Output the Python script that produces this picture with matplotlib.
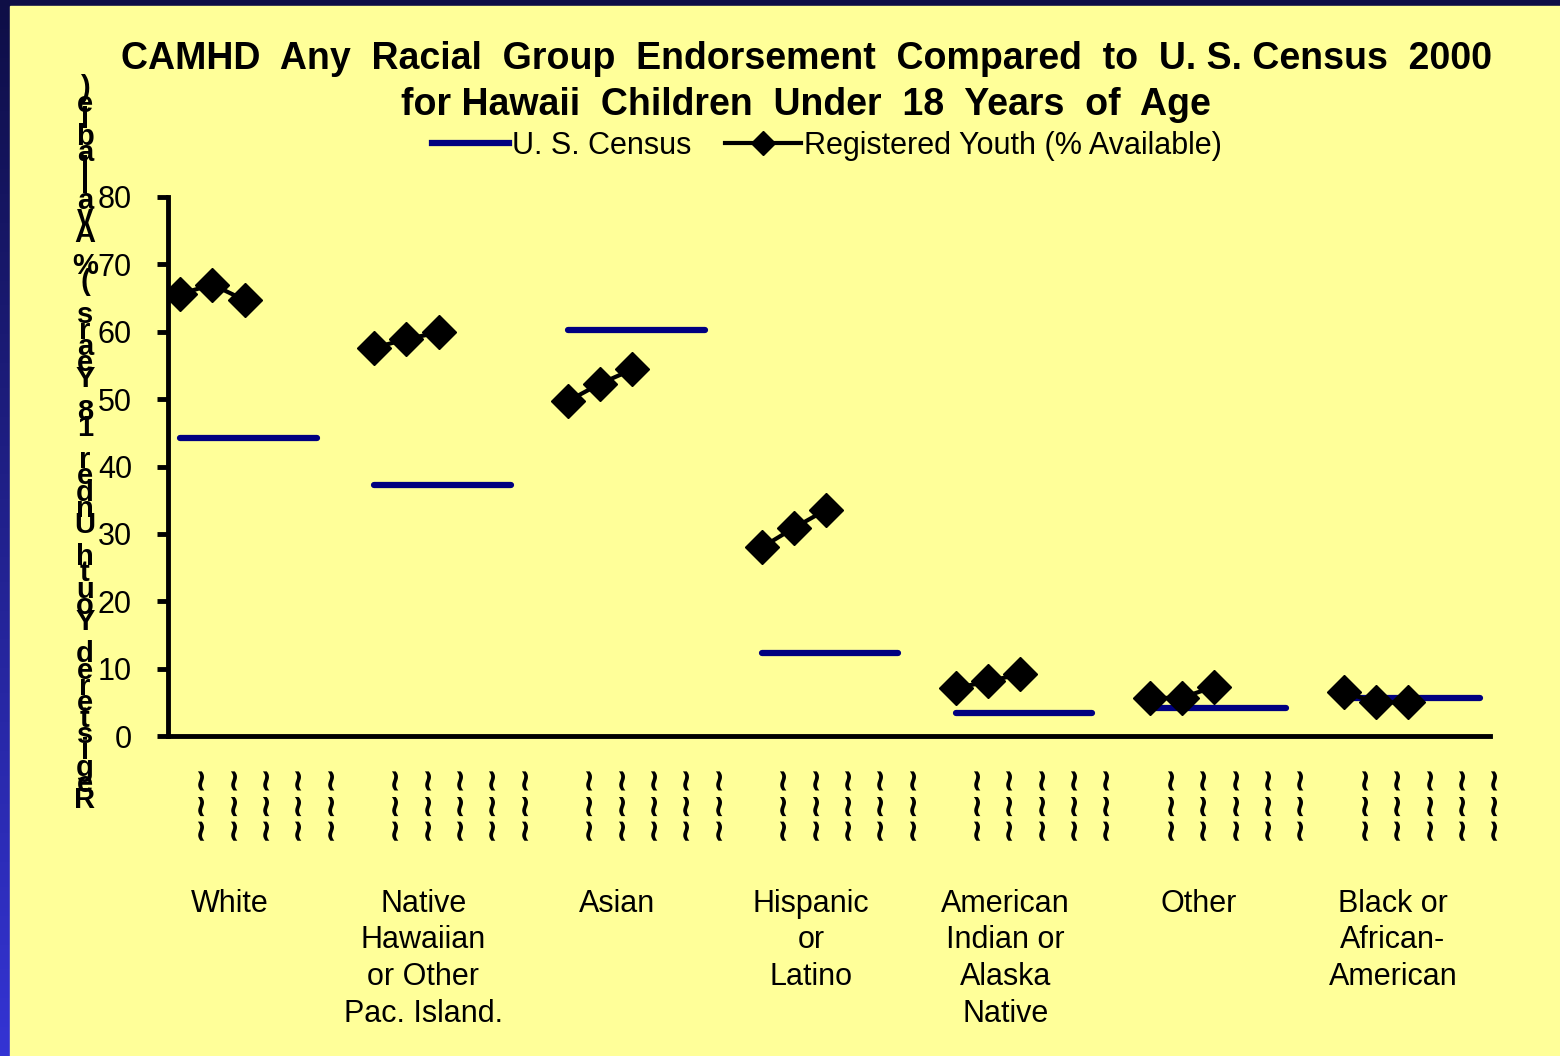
import numpy as np
import matplotlib.pyplot as plt
from matplotlib.patches import Rectangle
from matplotlib.lines import Line2D
from matplotlib.colors import LinearSegmentedColormap
import matplotlib.transforms as mtransforms

plt.rcParams['font.family'] = ['Liberation Sans', 'DejaVu Sans']

# ---- data ----
groups = ['White', 'Native\nHawaiian\nor Other\nPac. Island.', 'Asian',
          'Hispanic\nor\nLatino', 'American\nIndian or\nAlaska\nNative',
          'Other', 'Black or\nAfrican-\nAmerican']
census = [44.3, 37.2, 60.3, 12.3, 3.4, 4.2, 5.6]
youth = [
    [65.6, 67.0, 64.7],
    [57.6, 58.9, 59.9],
    [49.7, 52.3, 54.4],
    [28.0, 30.9, 33.6],
    [7.1, 8.1, 9.2],
    [5.6, 5.7, 7.3],
    [6.5, 5.0, 5.0],
]
yticks = [0, 10, 20, 30, 40, 50, 60, 70, 80]
ylabel = 'Registered Youth Under 18 Years (% Available)'

W, H = 1560, 1056
fig = plt.figure(figsize=(W / 100, H / 100), dpi=100)

# background: dark navy frame with a blue gradient down the left edge
bg = fig.add_axes([0, 0, 1, 1])
bg.set_axis_off()
grad = np.linspace(0, 1, 256).reshape(-1, 1)
cmap = LinearSegmentedColormap.from_list('frame', ['#3434d4', '#0e0e46'])
bg.imshow(grad, aspect='auto', cmap=cmap, extent=[0, 1, 0, 1], origin='lower')
bg.add_patch(Rectangle((10 / W, 0), 1, 1 - 6 / H, color='#FFFF99',
                       transform=bg.transAxes, zorder=2))
bg.set_xlim(0, 1)
bg.set_ylim(0, 1)

# main axes
x0, x1, yb, yt = 168, 1490, 736, 197
ax = fig.add_axes([x0 / W, 1 - yb / H, (x1 - x0) / W, (yb - yt) / H])
ax.patch.set_alpha(0)
step = 6
ax.set_xlim(0, 40.9)
ax.set_ylim(0, 80)
blend = mtransforms.blended_transform_factory(ax.transData, ax.transAxes)

for g in range(len(groups)):
    base = g * step
    ax.plot([base + 0.37, base + 4.6], [census[g], census[g]],
            color='#000080', lw=4.5, solid_capstyle='round', zorder=3)
    xs = base + 0.37 + np.arange(3)
    ax.plot(xs, youth[g], color='black', lw=3, marker='D', ms=17,
            mec='black', mfc='black', zorder=4)
    # sub-category labels (garbled in the original)
    for k in range(1, 6):
        ax.text(base + k, -0.05, '~~~', rotation=90, ha='center', va='top',
                fontsize=22, fontweight='bold', family='DejaVu Sans',
                transform=blend)
    ax.text(base + 1.9, -0.283, groups[g], ha='center', va='top', fontsize=22,
            linespacing=1.3, transform=blend)

ax.set_yticks(yticks)
ax.set_yticklabels([str(t) for t in yticks], fontsize=22)
ax.set_xticks([])
for s in ['top', 'right']:
    ax.spines[s].set_visible(False)
for s in ['left', 'bottom']:
    ax.spines[s].set_linewidth(3.5)
ax.tick_params(axis='y', length=8, width=3.5, direction='out', pad=18)

# stacked y-axis label, one upright letter per slot from bottom to top
ytop, ybot = 88, 800
n = len(ylabel)
for i, ch in enumerate(ylabel):
    ypx = ybot - i * (ybot - ytop) / (n - 1)
    fig.text(85 / W, 1 - ypx / H, ch, ha='center', va='center',
             fontsize=21, fontweight='bold')

# title
fig.text(806 / W, 1 - 82 / H,
         'CAMHD  Any  Racial  Group  Endorsement  Compared  to  U. S. Census  2000\n'
         'for Hawaii  Children  Under  18  Years  of  Age',
         ha='center', va='center', fontsize=27, fontweight='bold', linespacing=1.33)

# legend
handles = [Line2D([], [], color='#000080', lw=4.5),
           Line2D([], [], color='black', lw=3, marker='D', ms=12)]
fig.legend(handles, ['U. S. Census', 'Registered Youth (% Available)'],
           loc='center', bbox_to_anchor=(827 / W, 1 - 146 / H), ncol=2,
           frameon=False, fontsize=22, handlelength=2.5, handletextpad=0.1,
           columnspacing=1.1)

fig.savefig('out.png', dpi=100)
